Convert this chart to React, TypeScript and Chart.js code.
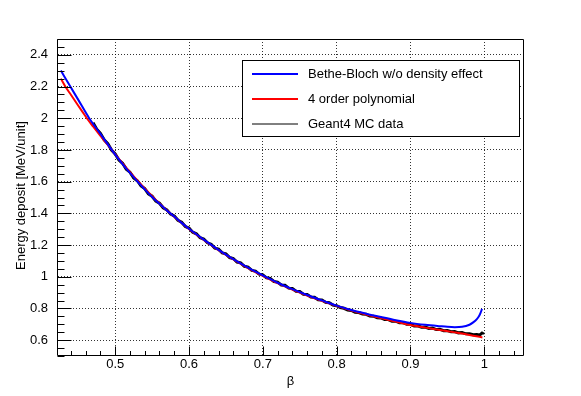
import React, { useEffect, useRef } from "react";
import { Chart, registerables } from "chart.js";

Chart.register(...registerables);

// ---- data ----
const seriesNames = ["Bethe-Bloch w/o density effect", "4 order polynomial", "Geant4 MC data"];
const seriesColors = ["#0000ff", "#ff0000", "#000000"];

const betaBB = [0.4264, 0.4392, 0.45, 0.4648, 0.48, 0.49, 0.4954, 0.5, 0.51, 0.52, 0.53, 0.54, 0.55, 0.56, 0.57, 0.58, 0.59, 0.6, 0.62, 0.64, 0.66, 0.68, 0.7, 0.72, 0.74, 0.76, 0.78, 0.8, 0.82, 0.84, 0.86, 0.88, 0.9, 0.92, 0.94, 0.95, 0.96, 0.97, 0.98, 0.985, 0.99, 0.993, 0.995, 0.997];
const dedxBB = [2.301, 2.2, 2.116, 2.0, 1.901, 1.835, 1.8, 1.77, 1.711, 1.655, 1.602, 1.552, 1.503, 1.46, 1.418, 1.38, 1.34, 1.303, 1.234, 1.17, 1.111, 1.057, 1.008, 0.962, 0.922, 0.885, 0.851, 0.818, 0.79, 0.767, 0.746, 0.726, 0.709, 0.697, 0.688, 0.684, 0.682, 0.684, 0.697, 0.712, 0.733, 0.752, 0.772, 0.797];

const betaPoly = [0.4264, 0.4324, 0.44, 0.45, 0.46, 0.4616, 0.47, 0.48, 0.49, 0.4954, 0.5, 0.52, 0.54, 0.56, 0.58, 0.6, 0.62, 0.64, 0.66, 0.68, 0.7, 0.72, 0.74, 0.76, 0.78, 0.8, 0.82, 0.84, 0.86, 0.88, 0.9, 0.92, 0.94, 0.96, 0.98, 0.9975];
const dedxPoly = [2.25, 2.2, 2.148, 2.079, 2.011, 2.0, 1.948, 1.889, 1.832, 1.8, 1.772, 1.66, 1.557, 1.462, 1.378, 1.301, 1.232, 1.168, 1.109, 1.055, 1.006, 0.96, 0.919, 0.882, 0.848, 0.816, 0.787, 0.762, 0.739, 0.717, 0.695, 0.679, 0.664, 0.649, 0.633, 0.617];

const betaMC = [0.47, 0.475, 0.48, 0.485, 0.49, 0.495, 0.5, 0.505, 0.51, 0.515, 0.52, 0.525, 0.53, 0.535, 0.54, 0.545, 0.55, 0.555, 0.56, 0.565, 0.57, 0.575, 0.58, 0.585, 0.59, 0.595, 0.6, 0.605, 0.61, 0.615, 0.62, 0.625, 0.63, 0.635, 0.64, 0.645, 0.65, 0.655, 0.66, 0.665, 0.67, 0.675, 0.68, 0.685, 0.69, 0.695, 0.7, 0.705, 0.71, 0.715, 0.72, 0.725, 0.73, 0.735, 0.74, 0.745, 0.75, 0.755, 0.76, 0.765, 0.77, 0.775, 0.78, 0.785, 0.79, 0.795, 0.8, 0.805, 0.81, 0.815, 0.82, 0.825, 0.83, 0.835, 0.84, 0.845, 0.85, 0.855, 0.86, 0.865, 0.87, 0.875, 0.88, 0.885, 0.89, 0.895, 0.9, 0.905, 0.91, 0.915, 0.92, 0.925, 0.93, 0.935, 0.94, 0.945, 0.95, 0.955, 0.96, 0.965, 0.97, 0.975, 0.98, 0.985, 0.99, 0.993, 0.995, 0.997, 0.998];
const dedxMC = [1.972, 1.931, 1.905, 1.864, 1.84, 1.799, 1.775, 1.736, 1.716, 1.679, 1.66, 1.624, 1.606, 1.573, 1.556, 1.523, 1.508, 1.477, 1.464, 1.435, 1.422, 1.395, 1.384, 1.356, 1.344, 1.317, 1.307, 1.281, 1.271, 1.246, 1.238, 1.214, 1.205, 1.181, 1.174, 1.151, 1.144, 1.121, 1.115, 1.093, 1.088, 1.066, 1.061, 1.04, 1.036, 1.016, 1.012, 0.993, 0.99, 0.97, 0.966, 0.948, 0.946, 0.928, 0.926, 0.909, 0.907, 0.89, 0.888, 0.872, 0.871, 0.855, 0.853, 0.839, 0.836, 0.821, 0.817, 0.806, 0.801, 0.79, 0.787, 0.776, 0.774, 0.765, 0.763, 0.752, 0.751, 0.741, 0.74, 0.73, 0.73, 0.72, 0.72, 0.71, 0.71, 0.7, 0.7, 0.69, 0.691, 0.682, 0.683, 0.674, 0.676, 0.667, 0.668, 0.66, 0.661, 0.653, 0.654, 0.646, 0.648, 0.64, 0.641, 0.634, 0.635, 0.632, 0.637, 0.645, 0.65];

const xTicks = [0.5, 0.6, 0.7, 0.8, 0.9, 1.0];
const xTickLabels = ["0.5", "0.6", "0.7", "0.8", "0.9", "1"];
const yTicks = [0.6, 0.8, 1.0, 1.2, 1.4, 1.6, 1.8, 2.0, 2.2, 2.4];
const yTickLabels = ["0.6", "0.8", "1", "1.2", "1.4", "1.6", "1.8", "2", "2.2", "2.4"];
const xTitle = "β";
const yTitle = "Energy deposit [MeV/unit]";
const xRange = [0.4225, 1.0525];
const yRange = [0.5, 2.5];
const xMinorStep = 0.02;
const yMinorStep = 0.05;

const FONT = "'Liberation Sans', Arial, Helvetica, sans-serif";

const rootPlugin = {
  id: "rootDecor",
  afterDraw(chart: any) {
    const ctx = chart.ctx;
    const { left, right, top, bottom } = chart.chartArea;
    const xs = chart.scales.x;
    const ys = chart.scales.y;
    ctx.save();
    ctx.strokeStyle = "#000";
    ctx.lineWidth = 1;
    ctx.setLineDash([]);
    // frame
    ctx.beginPath();
    ctx.rect(left - 0.5, top + 0.5, right - left + 1, bottom - top - 1);
    ctx.stroke();
    // x ticks
    ctx.beginPath();
    const nx = Math.round((xRange[1] - xRange[0]) / xMinorStep) + 2;
    for (let i = 0; i < nx; i++) {
      const v = Math.ceil(xRange[0] / xMinorStep) * xMinorStep + i * xMinorStep;
      if (v > xRange[1]) break;
      const major = Math.abs(v * 10 - Math.round(v * 10)) < 1e-6;
      const px = Math.round(xs.getPixelForValue(v)) + 0.5;
      ctx.moveTo(px, bottom - 0.5);
      ctx.lineTo(px, bottom - 0.5 - (major ? 9 : 4.5));
    }
    // y ticks
    const ny = Math.round((yRange[1] - yRange[0]) / yMinorStep) + 2;
    for (let i = 0; i < ny; i++) {
      const v = Math.ceil(yRange[0] / yMinorStep - 1e-9) * yMinorStep + i * yMinorStep;
      if (v > yRange[1] + 1e-9) break;
      const major = Math.abs(v * 5 - Math.round(v * 5)) < 1e-6;
      const py = Math.round(ys.getPixelForValue(v)) + 0.5;
      ctx.moveTo(left - 0.5, py);
      ctx.lineTo(left - 0.5 + (major ? 14 : 7), py);
    }
    ctx.stroke();

    // axis titles
    ctx.fillStyle = "#000";
    ctx.font = `13px ${FONT}`;
    ctx.textAlign = "center";
    ctx.textBaseline = "middle";
    ctx.fillText(xTitle, (left + right) / 2, 381);
    ctx.save();
    ctx.translate(21, (top + bottom) / 2 - 2);
    ctx.rotate(-Math.PI / 2);
    ctx.fillText(yTitle, 0, 0);
    ctx.restore();

    // legend
    const lx0 = 242, ly0 = 60, lx1 = 519, ly1 = 136;
    ctx.fillStyle = "#fff";
    ctx.fillRect(lx0, ly0, lx1 - lx0, ly1 - ly0);
    ctx.strokeStyle = "#000";
    ctx.lineWidth = 1;
    ctx.strokeRect(lx0 + 0.5, ly0 + 0.5, lx1 - lx0, ly1 - ly0);
    const rowY = [74, 99, 124];
    chart.data.datasets.forEach((ds: any, i: number) => {
      ctx.strokeStyle = ds.borderColor;
      ctx.lineWidth = i === 2 ? 1 : 2;
      ctx.beginPath();
      ctx.moveTo(252, rowY[i]);
      ctx.lineTo(298, rowY[i]);
      ctx.stroke();
      ctx.fillStyle = "#000";
      ctx.textAlign = "left";
      ctx.textBaseline = "middle";
      ctx.fillText(ds.label, 308, rowY[i]);
    });
    ctx.restore();
  },
};

export default function App() {
  const ref = useRef<HTMLCanvasElement | null>(null);
  useEffect(() => {
    if (!ref.current) return;
    const mk = (xs: number[], ys: number[]) => xs.map((x, i) => ({ x, y: ys[i] }));
    const chart = new Chart(ref.current, {
      type: "line",
      data: {
        datasets: [
          { label: seriesNames[0], data: mk(betaBB, dedxBB), borderColor: seriesColors[0], borderWidth: 2, pointRadius: 0, cubicInterpolationMode: "monotone", fill: false },
          { label: seriesNames[1], data: mk(betaPoly, dedxPoly), borderColor: seriesColors[1], borderWidth: 2, pointRadius: 0, cubicInterpolationMode: "monotone", fill: false },
          { label: seriesNames[2], data: mk(betaMC, dedxMC), borderColor: seriesColors[2], borderWidth: 3, pointRadius: 0, tension: 0, fill: false },
        ],
      },
      options: {
        responsive: false,
        animation: false,
        devicePixelRatio: 1,
        layout: { padding: { top: 39, right: 58, left: 0, bottom: 0 } },
        plugins: { legend: { display: false }, tooltip: { enabled: false } },
        scales: {
          x: {
            type: "linear",
            min: xRange[0],
            max: xRange[1],
            bounds: "data",
            afterFit: (s: any) => { s.height = 40; s.paddingLeft = 0; s.paddingRight = 0; },
            afterBuildTicks: (s: any) => { s.ticks = xTicks.map((v) => ({ value: v })); },
            ticks: {
              callback: (_v: any, i: number) => xTickLabels[i],
              font: { family: FONT, size: 13 },
              color: "#000",
              padding: 1,
              maxRotation: 0,
              autoSkip: false,
            },
            grid: { drawTicks: false, color: "rgba(0,0,0,0.8)", lineWidth: 1 },
            border: { display: false, dash: [1, 2] },
          },
          y: {
            type: "linear",
            min: yRange[0],
            max: yRange[1],
            bounds: "data",
            afterFit: (s: any) => { s.width = 58; s.paddingTop = 0; s.paddingBottom = 0; },
            afterBuildTicks: (s: any) => { s.ticks = yTicks.map((v) => ({ value: v })); },
            ticks: {
              callback: (_v: any, i: number) => yTickLabels[i],
              font: { family: FONT, size: 13 },
              color: "#000",
              padding: 10,
              autoSkip: false,
            },
            grid: { drawTicks: false, color: "rgba(0,0,0,0.8)", lineWidth: 1 },
            border: { display: false, dash: [1, 2] },
          },
        },
      } as any,
      plugins: [rootPlugin],
    });
    return () => chart.destroy();
  }, []);
  return (
    <div style={{ position: "fixed", left: 0, top: 0, width: 581, height: 396, background: "#fff" }}>
      <canvas ref={ref} width={581} height={396} style={{ width: 581, height: 396, display: "block" }} />
    </div>
  );
}
